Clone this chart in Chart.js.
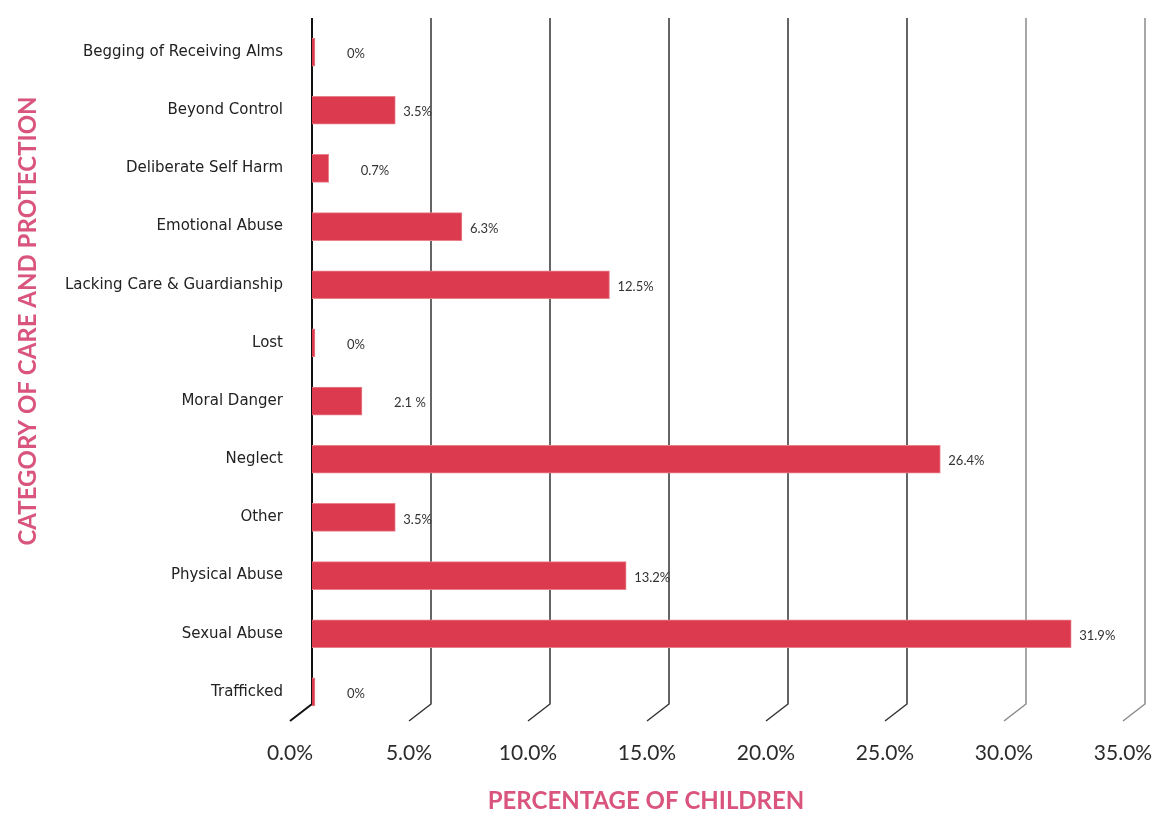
<!DOCTYPE html>
<html lang="en">
<head>
  <meta charset="UTF-8" />
  <title>Category of Care and Protection</title>
  <script src="https://cdn.jsdelivr.net/npm/chart.js"></script>
  <style>
    * { box-sizing: border-box; margin: 0; padding: 0; }
    body { background: #fff; width: 1169px; height: 824px; overflow: hidden; }
    .chart-box { position: relative; width: 1169px; height: 824px; }
  </style>
</head>
<body>

<div class="chart-box">
  <canvas id="careChart"></canvas>
</div>

<script>
  const categories = [
    "Begging of Receiving Alms",
    "Beyond Control",
    "Deliberate Self Harm",
    "Emotional Abuse",
    "Lacking Care & Guardianship",
    "Lost",
    "Moral Danger",
    "Neglect",
    "Other",
    "Physical Abuse",
    "Sexual Abuse",
    "Trafficked"
  ];
  const percentages = [0, 3.5, 0.7, 6.3, 12.5, 0, 2.1, 26.4, 3.5, 13.2, 31.9, 0];
  const valueLabels = ["0%", "3.5%", "0.7%", "6.3%", "12.5%", "0%", "2.1 %", "26.4%", "3.5%", "13.2%", "31.9%", "0%"];
  const axisTicks = [0, 5, 10, 15, 20, 25, 30, 35];

  const FONT = "'Lato', 'Open Sans', sans-serif";
  const LABEL_FONT = "'DejaVu Sans', sans-serif";
  const PINK = '#d9557e';

  // keep the plot area where the layout puts it, no extra room for edge labels
  function noEdgePadding(scale) {
    scale.paddingLeft = 0;
    scale.paddingRight = 0;
    scale.paddingTop = 0;
    scale.paddingBottom = 0;
  }

  // vertical grid lines with the little slanted foot at the bottom
  const gridLines = {
    id: 'gridLines',
    beforeDatasetsDraw(chart) {
      const { ctx, chartArea, scales } = chart;
      ctx.save();
      axisTicks.forEach(v => {
        const x = scales.x.getPixelForValue(v);
        ctx.strokeStyle = v >= 30 ? '#8a8a8a' : (v === 0 ? '#111' : '#333');
        ctx.lineWidth = v === 0 ? 2 : 1.5;
        ctx.beginPath();
        ctx.moveTo(x, chartArea.top - 5);
        ctx.lineTo(x, chartArea.bottom - 17);
        ctx.lineTo(x - 22, chartArea.bottom);
        ctx.stroke();
      });
      ctx.restore();
    }
  };

  // value text next to each bar
  const barValues = {
    id: 'barValues',
    afterDatasetsDraw(chart) {
      const { ctx } = chart;
      const meta = chart.getDatasetMeta(0);
      ctx.save();
      ctx.font = `13px ${FONT}`;
      ctx.fillStyle = '#333';
      ctx.textBaseline = 'middle';
      meta.data.forEach((bar, i) => {
        const gap = percentages[i] < 3 ? 32 : 8;
        ctx.fillText(valueLabels[i], bar.x + gap, bar.y + 2);
      });
      ctx.restore();
    }
  };

  // pink axis titles
  const axisTitles = {
    id: 'axisTitles',
    afterDraw(chart) {
      const { ctx } = chart;
      ctx.save();
      ctx.fillStyle = PINK;
      ctx.font = `bold 24px ${FONT}`;
      ctx.textAlign = 'center';
      ctx.textBaseline = 'middle';
      ctx.fillText('PERCENTAGE OF CHILDREN', 646, 801);
      ctx.translate(28, 321);
      ctx.rotate(-Math.PI / 2);
      ctx.fillText('CATEGORY OF CARE AND PROTECTION', 0, 0);
      ctx.restore();
    }
  };

  new Chart(document.getElementById('careChart'), {
    type: 'bar',
    data: {
      labels: categories,
      datasets: [{
        data: percentages,
        backgroundColor: '#dc3a4e',
        borderColor: '#e9818c',
        borderWidth: 1,
        barThickness: 28,
        minBarLength: 3
      }]
    },
    options: {
      indexAxis: 'y',
      responsive: true,
      maintainAspectRatio: false,
      animation: false,
      layout: { padding: { top: 23, right: 24, left: 0, bottom: 0 } },
      plugins: {
        legend: { display: false },
        tooltip: { enabled: false }
      },
      scales: {
        x: {
          min: 0,
          max: 35,
          afterFit(scale) { scale.height = 103; noEdgePadding(scale); },
          afterBuildTicks(scale) { scale.ticks = axisTicks.map(v => ({ value: v })); },
          grid: { display: false, drawTicks: false },
          border: { display: false },
          ticks: {
            padding: 20,
            labelOffset: -22,
            color: '#2b2b2b',
            font: { family: FONT, size: 21 },
            callback: v => v.toFixed(1) + '%'
          }
        },
        y: {
          afterFit(scale) { scale.width = 312; noEdgePadding(scale); },
          grid: { display: false, drawTicks: false },
          border: { display: false },
          ticks: {
            padding: 29,
            color: '#222',
            font: { family: LABEL_FONT, size: 15 }
          }
        }
      }
    },
    plugins: [gridLines, barValues, axisTitles]
  });
</script>

</body>
</html>
